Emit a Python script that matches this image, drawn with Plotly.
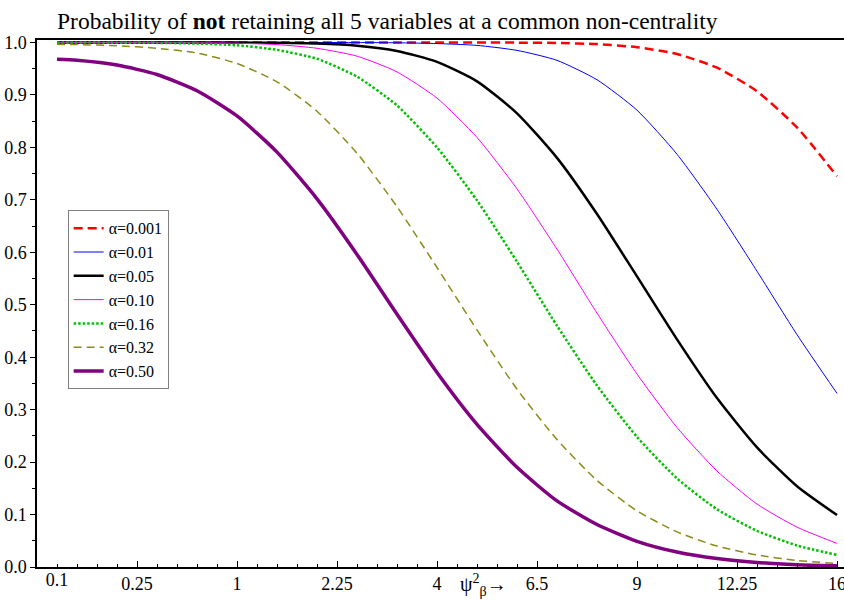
import plotly.graph_objects as go

# x positions are psi (square root of psi^2); tick labels show psi^2
psi = [0.1, 0.2, 0.4, 0.6, 0.8, 1.0, 1.2, 1.4, 1.6, 1.8, 2.0,
       2.2, 2.4, 2.6, 2.8, 3.0, 3.2, 3.4, 3.6, 3.8, 4.0]

a001 = [1.0, 1.0, 1.0, 1.0, 1.0, 1.0, 1.0, 1.0, 1.0, 1.0, 1.0,
        1.0, 0.9998, 0.9991, 0.997, 0.991, 0.978, 0.952, 0.907, 0.838, 0.745]
a01 = [1.0, 1.0, 1.0, 1.0, 1.0, 1.0, 1.0, 1.0, 0.9999, 0.9995, 0.998,
       0.9945, 0.985, 0.966, 0.929, 0.871, 0.787, 0.682, 0.564, 0.443, 0.331]
a05 = [1.0, 1.0, 1.0, 1.0, 1.0, 0.9999, 0.9994, 0.998, 0.994, 0.984, 0.963,
       0.926, 0.865, 0.780, 0.673, 0.554, 0.434, 0.322, 0.228, 0.154, 0.099]
a10 = [1.0, 1.0, 1.0, 0.9999, 0.9996, 0.9987, 0.996, 0.989, 0.974, 0.944, 0.894,
       0.819, 0.721, 0.606, 0.484, 0.368, 0.266, 0.183, 0.120, 0.076, 0.045]
a16 = [0.9999, 0.9999, 0.9997, 0.9993, 0.998, 0.9947, 0.986, 0.969, 0.935, 0.880, 0.800,
       0.699, 0.582, 0.460, 0.346, 0.248, 0.169, 0.110, 0.069, 0.041, 0.023]
a32 = [0.9965, 0.996, 0.994, 0.989, 0.980, 0.960, 0.925, 0.869, 0.789, 0.687, 0.571,
       0.452, 0.339, 0.243, 0.165, 0.107, 0.067, 0.040, 0.023, 0.0125, 0.0066]
a50 = [0.968, 0.966, 0.957, 0.939, 0.908, 0.860, 0.791, 0.702, 0.596, 0.482, 0.371,
       0.272, 0.190, 0.126, 0.081, 0.049, 0.0285, 0.016, 0.0086, 0.0044, 0.0022]

names = ["α=0.001", "α=0.01", "α=0.05", "α=0.10", "α=0.16", "α=0.32", "α=0.50"]
series = [a001, a01, a05, a10, a16, a32, a50]

x_tick_pos = [0.5, 1.0, 1.5, 2.0, 2.5, 3.0, 3.5, 4.0]
x_tick_text = ["0.25", "1", "2.25", "4", "6.5", "9", "12.25", "16"]
x_extra_pos = [0.1]
x_extra_text = ["0.1"]
y_tick_pos = [0.0, 0.1, 0.2, 0.3, 0.4, 0.5, 0.6, 0.7, 0.8, 0.9, 1.0]

styles = [
    dict(color="#ff0000", width=2.5, dash="9px,5px"),
    dict(color="#0000ff", width=1.0, dash="solid"),
    dict(color="#000000", width=2.5, dash="solid"),
    dict(color="#ff00ff", width=1.0, dash="solid"),
    dict(color="#00c000", width=2.5, dash="2.5px,2px"),
    dict(color="#8b8b1a", width=1.5, dash="8px,5px"),
    dict(color="#800080", width=3.5, dash="solid"),
]

SERIF = "Liberation Serif"

fig = go.Figure()
for name, vals, st in zip(names, series, styles):
    fig.add_trace(go.Scatter(x=psi, y=vals, mode="lines", name=name,
                             line=dict(shape="spline", smoothing=0.6, **st)))

# invisible trace to carry the extra "0.1" label axis
fig.add_trace(go.Scatter(x=[psi[0]], y=[a50[0]], xaxis="x2", mode="markers",
                         marker=dict(opacity=0), showlegend=False, hoverinfo="skip"))

XR = [0, 4.035]
fig.update_layout(
    width=844, height=601,
    margin=dict(l=37, r=0, t=40, b=33.5, autoexpand=False),
    paper_bgcolor="white", plot_bgcolor="white",
    font=dict(family=SERIF, size=18, color="black"),
    title=dict(text="Probability of <b>not</b> retaining all 5 variables at a common non-centrality",
               x=57 / 844, xanchor="left", xref="container",
               y=1 - 21 / 601, yanchor="middle", yref="container",
               pad=dict(l=0, r=0, t=0, b=0),
               font=dict(family=SERIF, size=23.5, color="black")),
    xaxis=dict(range=XR, tickmode="array", tickvals=x_tick_pos, ticktext=x_tick_text,
               ticks="inside", ticklen=6, tickcolor="black", tickwidth=1,
               minor=dict(dtick=0.1, tick0=0, ticks="inside", ticklen=3, tickcolor="black"),
               showline=True, linecolor="black", linewidth=1.5, mirror=True,
               showgrid=False, zeroline=False, ticklabeloverflow="allow",
               tickfont=dict(family=SERIF, size=18, color="black")),
    xaxis2=dict(range=XR, overlaying="x", side="bottom", tickmode="array",
                tickvals=x_extra_pos, ticktext=x_extra_text, ticks="",
                showline=False, showgrid=False, zeroline=False,
                tickfont=dict(family=SERIF, size=18, color="black")),
    yaxis=dict(range=[0, 1.0048], tickmode="array", tickvals=y_tick_pos, tickformat=".1f",
               ticks="outside", ticklen=5, tickcolor="black", tickwidth=1,
               minor=dict(dtick=0.05, tick0=0, ticks="outside", ticklen=3, tickcolor="black"),
               showline=True, linecolor="black", linewidth=1.5, mirror=False,
               showgrid=False, zeroline=False,
               tickfont=dict(family=SERIF, size=18, color="black")),
    legend=dict(x=0.038, y=0.507, xanchor="left", yanchor="middle",
                bgcolor="white", bordercolor="#808080", borderwidth=1,
                font=dict(family=SERIF, size=16, color="black"),
                tracegroupgap=0, itemwidth=30),
    showlegend=True,
)

fig.add_annotation(text="ψ<sup>2</sup><sub>β</sub>→", x=2.23, xref="x",
                   y=-0.035, yref="paper", yanchor="middle", showarrow=False,
                   font=dict(family=SERIF, size=20, color="black"))

fig.write_html("out.html", config={"displayModeBar": False},
               post_script="document.body.style.margin='0px';")
